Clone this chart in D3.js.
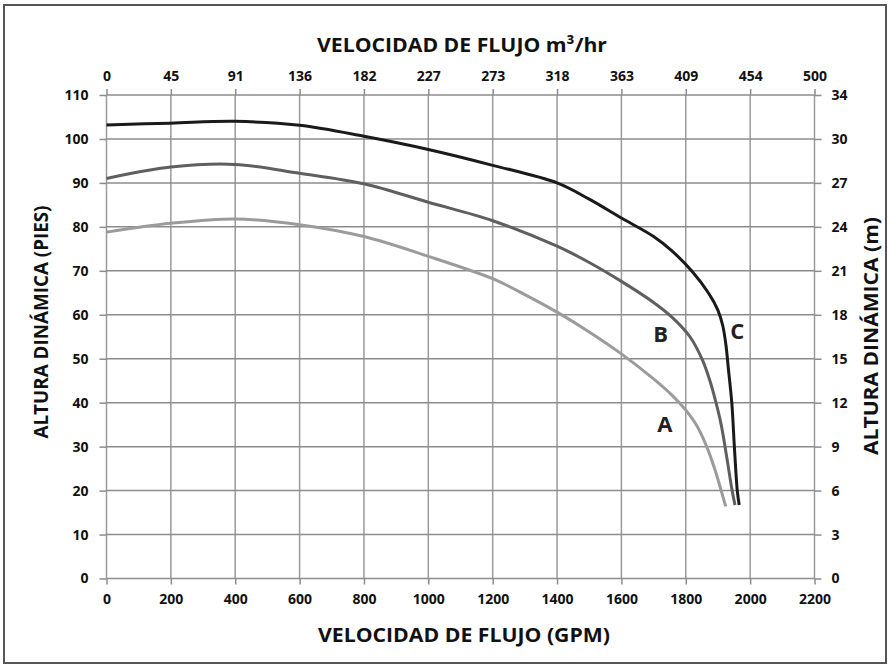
<!DOCTYPE html>
<html>
<head>
<meta charset="utf-8">
<script src="https://cdn.jsdelivr.net/npm/d3@7"></script>
<style>
  body { margin: 0; background: #fff; }
  text { font-family: "Open Sans", sans-serif; font-weight: bold; fill: #111; }
</style>
</head>
<body>
<div id="chart"></div>
<script>
// tick labels
const gpmTicks = [0, 200, 400, 600, 800, 1000, 1200, 1400, 1600, 1800, 2000, 2200];
const m3Labels = ["0", "45", "91", "136", "182", "227", "273", "318", "363", "409", "454", "500"];
const piesTicks = [0, 10, 20, 30, 40, 50, 60, 70, 80, 90, 100, 110];
const mLabels = ["0", "3", "6", "9", "12", "15", "18", "21", "24", "27", "30", "34"];

// curves: [GPM, pies]
const curveA = [[0, 78.8], [200, 80.8], [400, 81.8], [600, 80.5], [800, 77.8], [1000, 73.3],
  [1200, 68.2], [1300, 64.6], [1400, 60.6], [1500, 56.1], [1600, 51.1], [1700, 45.4],
  [1760, 41.5], [1800, 38.3], [1834, 34.8], [1865, 30], [1891, 24.7], [1910, 20], [1924, 16.4]];
const curveB = [[0, 91], [200, 93.6], [400, 94.2], [600, 92.2], [800, 89.8], [1000, 85.6],
  [1200, 81.4], [1400, 75.6], [1500, 71.9], [1600, 67.6], [1700, 62.8], [1761, 59.2],
  [1813, 55], [1850, 50], [1875, 45], [1894, 40], [1910, 35], [1922, 30], [1933, 25],
  [1944, 20], [1953, 16.7]];
const curveC = [[0, 103.2], [200, 103.6], [400, 104], [600, 103.1], [800, 100.6], [1000, 97.6],
  [1200, 94], [1400, 90], [1500, 86.3], [1600, 82], [1700, 77.8], [1756, 74.6], [1818, 70],
  [1870, 65], [1900, 61], [1915, 57.5], [1925, 53], [1932, 48], [1943, 40], [1951, 30],
  [1960, 20], [1966, 16.7]];

const series = [
  { name: "A", data: curveA, color: "#9b9b9b", label: [1735, 35] },
  { name: "B", data: curveB, color: "#5f5f5f", label: [1722, 55.5] },
  { name: "C", data: curveC, color: "#1a1a1a", label: [1960, 56.2] }
];

const width = 893, height = 667;
const svg = d3.select("#chart").append("svg")
  .attr("width", width)
  .attr("height", height);

// outer frame
svg.append("rect")
  .attr("x", 4).attr("y", 5)
  .attr("width", 882).attr("height", 658)
  .attr("fill", "none")
  .attr("stroke", "#555")
  .attr("stroke-width", 2);

const x = d3.scaleLinear().domain([0, 2200]).range([106.5, 814.5]);
const y = d3.scaleLinear().domain([0, 110]).range([578.5, 95]);

// grid
const grid = svg.append("g").attr("class", "grid");
grid.selectAll("line.v")
  .data(gpmTicks)
  .enter().append("line")
  .attr("x1", d => x(d)).attr("x2", d => x(d))
  .attr("y1", y(0)).attr("y2", y(110))
  .attr("stroke", "#9a9a9a")
  .attr("stroke-width", 1.5);
grid.selectAll("line.h")
  .data(piesTicks)
  .enter().append("line")
  .attr("x1", x(0)).attr("x2", x(2200))
  .attr("y1", d => y(d)).attr("y2", d => y(d))
  .attr("stroke", "#8c8c8c")
  .attr("stroke-width", 1.5);

function styleAxis(g) {
  g.select(".domain").remove();
  g.selectAll(".tick line").attr("stroke", "#8c8c8c").attr("stroke-width", 1.5);
  g.selectAll(".tick text").attr("font-size", 14).attr("fill", "#111");
}

svg.append("g")
  .attr("transform", `translate(0,${y(0)})`)
  .call(d3.axisBottom(x).tickValues(gpmTicks).tickFormat(d3.format("d")).tickSize(6).tickPadding(10))
  .call(styleAxis);

svg.append("g")
  .attr("transform", `translate(0,${y(110)})`)
  .call(d3.axisTop(x).tickValues(gpmTicks).tickFormat((d, i) => m3Labels[i]).tickSize(6).tickPadding(8))
  .call(styleAxis);

svg.append("g")
  .attr("transform", `translate(${x(0)},0)`)
  .call(d3.axisLeft(y).tickValues(piesTicks).tickSize(7).tickPadding(11))
  .call(styleAxis);

svg.append("g")
  .attr("transform", `translate(${x(2200)},0)`)
  .call(d3.axisRight(y).tickValues(piesTicks).tickFormat((d, i) => mLabels[i]).tickSize(7).tickPadding(10))
  .call(styleAxis);

// curves
const line = d3.line()
  .x(d => x(d[0]))
  .y(d => y(d[1]))
  .curve(d3.curveCatmullRom.alpha(0.5));

svg.selectAll("path.curve")
  .data(series)
  .enter().append("path")
  .attr("class", "curve")
  .attr("d", d => line(d.data))
  .attr("fill", "none")
  .attr("stroke", d => d.color)
  .attr("stroke-width", 3);

svg.selectAll("text.curve-label")
  .data(series)
  .enter().append("text")
  .attr("class", "curve-label")
  .attr("x", d => x(d.label[0]))
  .attr("y", d => y(d.label[1]))
  .attr("dy", "0.35em")
  .attr("text-anchor", "middle")
  .attr("font-size", 22)
  .style("fill", "#222")
  .text(d => d.name);

// axis titles
svg.append("text")
  .attr("x", 462).attr("y", 45)
  .attr("dy", "0.35em")
  .attr("text-anchor", "middle")
  .attr("font-size", 20)
  .attr("textLength", 290)
  .attr("lengthAdjust", "spacingAndGlyphs")
  .text("VELOCIDAD DE FLUJO m³/hr");

svg.append("text")
  .attr("x", 464).attr("y", 635)
  .attr("dy", "0.35em")
  .attr("text-anchor", "middle")
  .attr("font-size", 20)
  .attr("textLength", 292)
  .attr("lengthAdjust", "spacingAndGlyphs")
  .text("VELOCIDAD DE FLUJO (GPM)");

svg.append("text")
  .attr("transform", "translate(41,322) rotate(-90)")
  .attr("dy", "0.35em")
  .attr("text-anchor", "middle")
  .attr("font-size", 20)
  .attr("textLength", 233)
  .attr("lengthAdjust", "spacingAndGlyphs")
  .text("ALTURA DINÁMICA (PIES)");

svg.append("text")
  .attr("transform", "translate(871,336) rotate(-90)")
  .attr("dy", "0.35em")
  .attr("text-anchor", "middle")
  .attr("font-size", 20)
  .attr("textLength", 238)
  .attr("lengthAdjust", "spacingAndGlyphs")
  .text("ALTURA DINÁMICA (m)");
</script>
</body>
</html>
